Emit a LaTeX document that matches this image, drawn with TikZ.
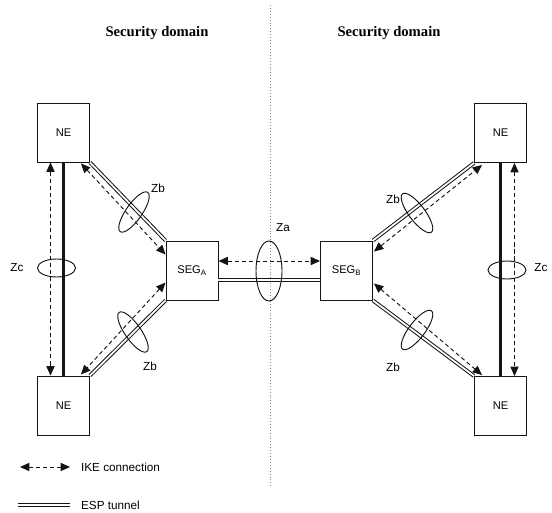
\documentclass[tikz,border=0pt]{standalone}
\usepackage{fontspec}
\setmainfont{Liberation Sans}
\newfontfamily\titlefont{Liberation Serif}
\usetikzlibrary{arrows.meta,calc}
\definecolor{primary}{RGB}{20, 20, 20}
\definecolor{divider}{RGB}{140, 140, 140}

\begin{document}
\begin{tikzpicture}[x=0.03cm,y=-0.03cm,
  box/.style={draw=primary,line width=0.8pt,minimum width=1.56cm,minimum height=1.77cm,inner sep=0pt,font=\fontsize{9.5}{10}\selectfont},
  ike/.style={primary,line width=0.8pt,dash pattern=on 3.5pt off 2.5pt,{Triangle[length=8pt,width=7pt]}-{Triangle[length=8pt,width=7pt]}},
  esp/.style={primary,double=white,double distance=1.5pt,line width=0.85pt},
  link/.style={primary,line width=2.5pt},
  zone/.style={primary,line width=0.8pt},
  lbl/.style={font=\fontsize{10}{11}\selectfont},
  title/.style={font=\titlefont\bfseries\fontsize{12.5}{14}\selectfont}]
\useasboundingbox (0,0) rectangle (552,513);

\node[title] (domL) at (157,33) {Security domain};
\node[title] (domR) at (389,33) {Security domain};
\draw[divider,dotted,line width=0.5pt] (270,5) -- (270,487);

\node[box] (neTL) at (63.5,132.5) {NE};
\node[box] (neBL) at (63.5,405.5) {NE};
\node[box] (neTR) at (500.5,133) {NE};
\node[box] (neBR) at (500.5,406) {NE};
\node[box] (segA) at (192,270.5) {SEG\textsubscript{A}};
\node[box] (segB) at (346.5,270.5) {SEG\textsubscript{B}};

\draw[esp] (neTL.south east) -- (segA.north west);
\draw[esp] (neBL.north east) -- (segA.south west);
\draw[esp] (neTR.south west) -- (segB.north east);
\draw[esp] (neBR.north west) -- (segB.south east);
\draw[esp] ($(segA.east)+(0,9.5)$) -- ($(segB.west)+(0,9.5)$);
\draw[link] (neTL.south) -- (neBL.north);
\draw[link] (neTR.south) -- (neBR.north);

\draw[ike] ($(neTL.south)+(-13,0)$) -- ($(neBL.north)+(-13,0)$);
\draw[ike] ($(neTR.south)+(14,0)$) -- ($(neBR.north)+(14,0)$);
\draw[ike] ($(neTL.south east)+(-9,1)$) -- ($(segA.west)+(0,-16)$);
\draw[ike] ($(segA.west)+(0,12)$) -- ($(neBL.north east)+(-9,-1)$);
\draw[ike] ($(segB.east)+(1,-19)$) -- ($(neTR.south west)+(8,2)$);
\draw[ike] ($(segB.east)+(1,13)$) -- ($(neBR.north west)+(8,-1)$);
\draw[ike] ($(segA.east)+(0,-9.5)$) -- ($(segB.west)+(0,-9.5)$);

\draw[zone] (56.5,268) ellipse (19 and 9);
\draw[zone] (507,270) ellipse (19 and 9);
\draw[zone] (269,271) ellipse (13 and 30);
\draw[zone,rotate around={55:(134,212)}] (134,212) ellipse (24 and 8);
\draw[zone,rotate around={-55:(133,332)}] (133,332) ellipse (24 and 8);
\draw[zone,rotate around={-53:(417,213)}] (417,213) ellipse (24 and 8);
\draw[zone,rotate around={53:(417,330)}] (417,330) ellipse (24 and 8);

\node[lbl] (zcL) at (17,268) {Zc};
\node[lbl] (zcR) at (541,268) {Zc};
\node[lbl] (za) at (283,228) {Za};
\node[lbl] (zbTL) at (158,188) {Zb};
\node[lbl] (zbBL) at (150,366) {Zb};
\node[lbl] (zbTR) at (393,199) {Zb};
\node[lbl] (zbBR) at (393,367) {Zb};

\coordinate (ikeL) at (20,467);
\coordinate (ikeR) at (70,467);
\draw[ike] (ikeL) -- (ikeR);
\node[lbl,anchor=west] (ikeText) at (77,467) {IKE connection};
\coordinate (espL) at (18,505);
\coordinate (espR) at (70,505);
\draw[esp] (espL) -- (espR);
\node[lbl,anchor=west] (espText) at (77,505) {ESP tunnel};
\end{tikzpicture}
\end{document}
